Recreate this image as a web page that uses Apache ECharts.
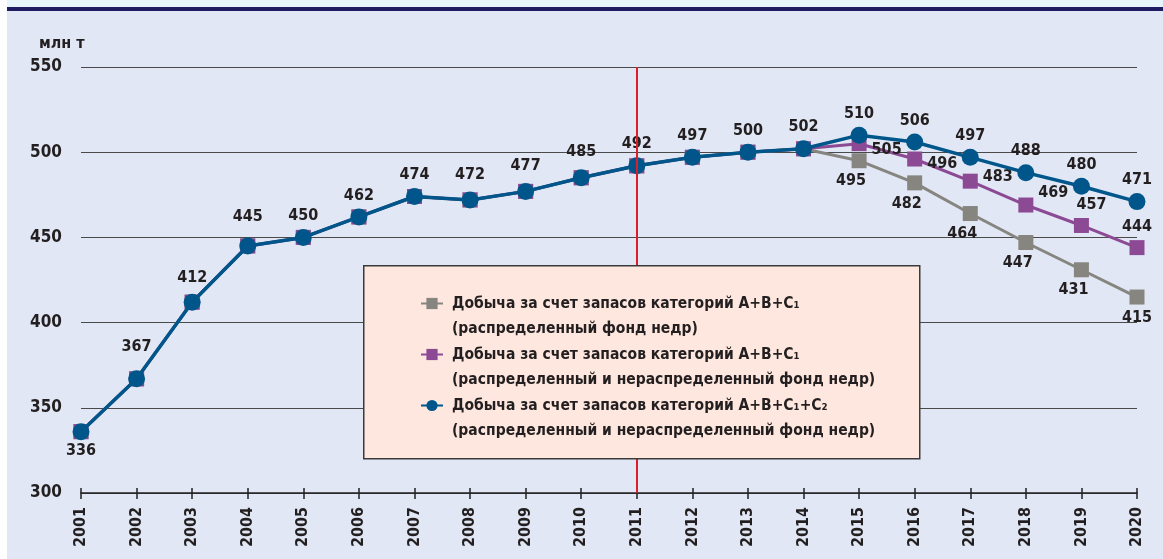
<!DOCTYPE html>
<html><head><meta charset="utf-8">
<script src="https://cdn.jsdelivr.net/npm/echarts@6/dist/echarts.min.js"></script>
<style>html,body{margin:0;padding:0;background:#fff}#c{width:1163px;height:559px}</style>
</head><body><div id="c"></div>
<script>
const years = ['2001','2002','2003','2004','2005','2006','2007','2008','2009','2010','2011','2012','2013','2014','2015','2016','2017','2018','2019','2020'];
const seriesNames = [
  'Добыча за счет запасов категорий А+В+С₁\n(распределенный фонд недр)',
  'Добыча за счет запасов категорий А+В+С₁\n(распределенный и нераспределенный фонд недр)',
  'Добыча за счет запасов категорий А+В+С₁+С₂\n(распределенный и нераспределенный фонд недр)'
];
const grayValues   = [336,367,412,445,450,462,474,472,477,485,492,497,500,502,495,482,464,447,431,415];
const purpleValues = [336,367,412,445,450,462,474,472,477,485,492,497,500,502,505,496,483,469,457,444];
const blueValues   = [336,367,412,445,450,462,474,472,477,485,492,497,500,502,510,506,497,488,480,471];
const yTicks = {min:300, max:550, step:50};
const markerYear = '2011';

const FONT = "'DejaVu Sans Condensed','Liberation Sans Narrow',sans-serif";
const TXT = '#231f20';
const labelBase = {fontFamily: FONT, fontWeight: 'bold', fontSize: 16, color: TXT};

// label placement tweaks (layout only)
const blueOffsets = {1:[0,-10],2:[0,-3],3:[0,-8],7:[0,-4],8:[0,-4],9:[0,-4]};
const purplePlace = {14:['right',[0,6]],15:['right',[0,5]],16:['right',[0,-4]],17:['right',[0,-12]],18:['top',[10,0]],19:['top',[0,0]]};

function buildBlue(){
  return blueValues.map((v,i)=>({
    value: v,
    label: Object.assign({show:true, position: i===0?'bottom':'top', distance: i===0?3:5, offset: blueOffsets[i]||[0,0]}, labelBase)
  }));
}
function buildPurple(){
  return purpleValues.map((v,i)=>{
    const p = purplePlace[i];
    return {value:v, label: p ? Object.assign({show:true, position:p[0], distance:5, offset:p[1]}, labelBase) : {show:false}};
  });
}
function buildGray(){
  return grayValues.map((v,i)=>({
    value:v,
    label: i>=14 ? Object.assign({show:true, position:'bottom', distance:5, offset: i<19?[-8,0]:[0,0]}, labelBase) : {show:false}
  }));
}

const chart = echarts.init(document.getElementById('c'), null, {renderer:'canvas'});
chart.setOption({
  backgroundColor: '#e1e7f4',
  animation: false,
  title: {text:'млн т', left: 34, top: 31, textStyle:{fontFamily:FONT, fontWeight:'bold', fontSize:16, color:TXT}},
  graphic: [
    {type:'rect', left:0, top:0, shape:{width:7, height:559}, style:{fill:'#ffffff'}, z:0},
    {type:'rect', left:7, top:0, shape:{width:1156, height:7}, style:{fill:'#e6f4fb'}, z:0},
    {type:'rect', left:7, top:7, shape:{width:1156, height:4}, style:{fill:'#1f1b63'}, z:0},
    {type:'rect', left:363, top:265, shape:{width:556, height:193}, style:{fill:'#fde7de', stroke:'#3a3a3a', lineWidth:1.5}, zlevel:1, z:1}
  ],
  grid: {left:81, right:26, top:67, bottom:66},
  legend: {
    orient:'vertical', left:415, top:261, itemGap:-24, itemWidth:22, itemHeight:14, zlevel:1, z:5,
    data: seriesNames,
    formatter: n => '\n' + n,
    textStyle: {fontFamily:FONT, fontWeight:'bold', fontSize:15.5, color:TXT, lineHeight:25, padding:[0,0,0,4]}
  },
  xAxis: [{
    type:'category', data: years, boundaryGap:false,
    axisLine:{lineStyle:{color:'#222', width:1.5}},
    axisTick:{alignWithLabel:true, length:6, lineStyle:{color:'#222', width:1.5}},
    axisLabel:{rotate:90, margin:14, fontFamily:FONT, fontWeight:'bold', fontSize:16, color:TXT},
    splitLine:{show:false}
  },{
    type:'category', data: years, boundaryGap:false, position:'bottom',
    axisLine:{show:false}, axisLabel:{show:false},
    axisTick:{inside:true, length:5, lineStyle:{color:'#222', width:1.5}}
  }],
  yAxis: {
    type:'value', min:yTicks.min, max:yTicks.max, interval:yTicks.step,
    axisLine:{show:false}, axisTick:{show:false},
    axisLabel:{margin:19, fontFamily:FONT, fontWeight:'bold', fontSize:17, color:TXT},
    splitLine:{lineStyle:{color:'#4a4a4a', width:1}}
  },
  series: [
    {name:seriesNames[0], type:'line', data:buildGray(), symbol:'rect', symbolSize:15,
     itemStyle:{color:'#878580'}, lineStyle:{color:'#878580', width:3}, z:2},
    {name:seriesNames[1], type:'line', data:buildPurple(), symbol:'rect', symbolSize:15,
     itemStyle:{color:'#8c4a95'}, lineStyle:{color:'#8c4a95', width:3}, z:3},
    {name:seriesNames[2], type:'line', data:buildBlue(), symbol:'circle', symbolSize:17,
     itemStyle:{color:'#00568a'}, lineStyle:{color:'#00568a', width:3.5}, z:4,
     markLine:{silent:true, symbol:'none', label:{show:false}, lineStyle:{color:'#d9202a', width:2, type:'solid'}, data:[{xAxis:markerYear}]}}
  ]
});
</script></body></html>
